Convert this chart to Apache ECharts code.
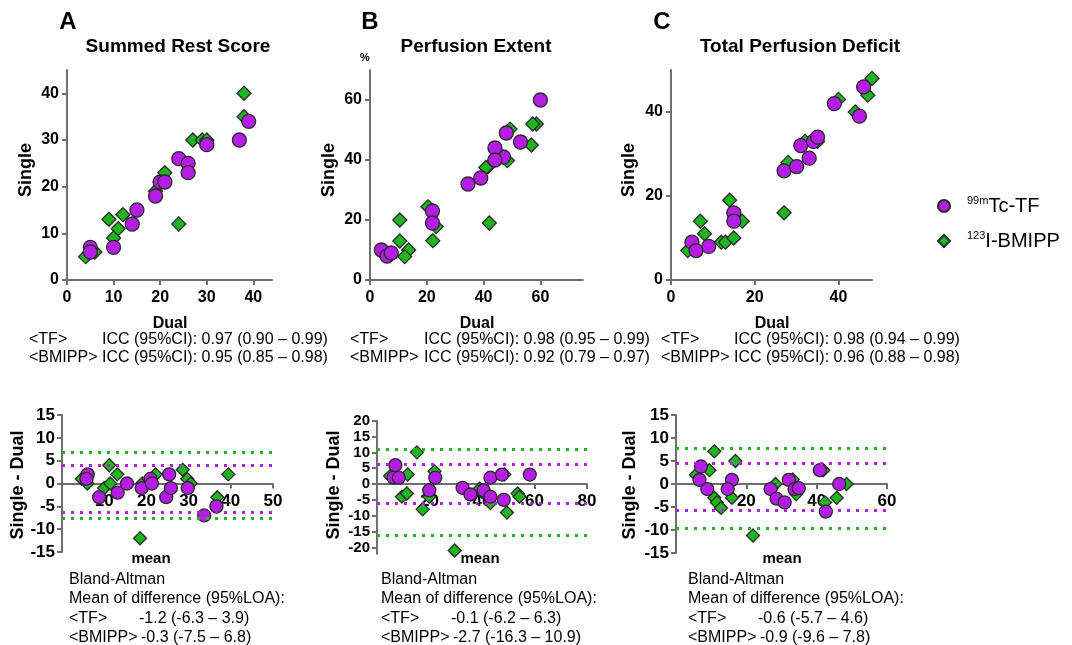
<!DOCTYPE html>
<html><head><meta charset="utf-8">
<script src="https://cdn.jsdelivr.net/npm/echarts@6/dist/echarts.min.js"></script>
<style>html,body{margin:0;padding:0;background:#fff}#c{width:1072px;height:645px}</style>
</head><body><div id="c"></div>
<script>
// ---------- DATA ----------
// Top scatter plots: [Dual, Single]
const srsTF = [[39,34],[37,30],[30,29],[24,26],[26,25],[26,23],[20,21],[21,21],[19,18],[15,15],[14,12],[10,7],[5,7],[5,6]];
const srsBM = [[38,40],[38,35],[27,30],[29,30],[30,30],[21,23],[19,19],[20,21],[9,13],[12,14],[11,11],[10,9],[24,12],[4,5],[6,6]];
const peTF = [[60,60],[53,46],[48,49],[47,41],[44,44],[44,40],[39,34],[34.5,32],[22,23],[22,19],[4,10],[6,8],[7.5,9]];
const peBM = [[58.6,52],[57.3,52],[56.8,45],[49.3,50.3],[48.4,39.8],[41.6,37.8],[40.8,37.5],[42,19],[10.5,20],[10.5,13],[13.6,10],[12.2,7.8],[20.4,24.4],[23.3,17.8],[22.1,13.1],[5,8.5]];
const tpdTF = [[5,9],[6,7],[9,8],[15,16],[15,14],[27,26],[30,27],[31,32],[33,29],[34,33],[35,34],[39,42],[45,39],[46,46]];
const tpdBM = [[4,7],[7,14],[8,11],[12,9],[13,9],[14,19],[15,10],[17,14],[27,16],[28,28],[32,33],[35,33],[40,43],[44,40],[47,44],[48,48]];
// Bland-Altman plots: [mean, Single - Dual]
const baSrsTF = [[6.1,2],[5.8,1],[8.8,-3],[13.2,-2],[15.4,0],[18.9,-1],[21,1],[21.3,0],[25.4,2],[24.7,-3],[25.8,-1],[29.8,-1],[33.7,-7],[36.6,-5]];
const baSrsBM = [[4.7,1],[6,0],[11.2,4],[10,-1],[11.4,0],[13.1,2],[22.2,2],[28.6,3],[29.7,1],[30.5,0],[39.4,2],[36.8,-3],[18.5,-12],[19,0],[20.5,1]];
const baPeTF = [[7,6],[6.3,2],[8.3,2],[19.9,-2],[22.2,2],[32.6,-1.2],[35.6,-3.3],[40.6,-2],[43.2,2],[43.2,-4],[47.6,3],[48.3,-5],[58.2,3]];
const baPeBM = [[5,2.5],[11.7,3],[15.2,10],[9.5,-4],[11.4,-3],[17.4,-8],[19.9,-4],[21.9,4],[29.6,-21],[39.1,-1.5],[40,-2.5],[43.2,-6],[49.5,-9],[48.5,3],[53.6,-3],[54.3,-4]];
const baTpdTF = [[7.1,3.8],[6.7,0.9],[8.9,-1.1],[15.9,0.9],[14.7,-1.1],[26.9,-1.1],[28.6,-3.2],[30.9,-4],[32.1,0.9],[33.7,-1.1],[34.9,-0.9],[40.9,3],[42.6,-6],[46.4,0]];
const baTpdBM = [[5.7,2],[9.5,3],[10.9,7.1],[10.9,-3],[11.6,-4],[12.8,-5.2],[16.9,5],[15.9,-3],[21.9,-11.2],[28.3,0],[33.2,1],[34.2,-2.2],[41.9,3],[42.4,-4],[45.7,-3],[48.5,0]];
// Limits of agreement (upper, lower)
const loaSrsTF = [3.9,-6.3], loaSrsBM = [6.8,-7.5];
const loaPeTF = [6.3,-6.2], loaPeBM = [10.9,-16.3];
const loaTpdTF = [4.6,-5.7], loaTpdBM = [7.8,-9.6];
// Tick values
const topXTicks = [[0,10,20,30,40],[0,20,40,60],[0,20,40]];
const topYTicks = [[0,10,20,30,40],[0,20,40,60],[0,20,40]];
const baXTicks = [[10,20,30,40,50],[20,40,60,80],[20,40,60]];
const baYTicks = [[-15,-10,-5,0,5,10,15],[-20,-15,-10,-5,0,5,10,15,20],[-15,-10,-5,0,5,10,15]];
// Texts
const panelLetters = ['A','B','C'];
const panelTitles = ['Summed Rest Score','Perfusion Extent','Total Perfusion Deficit'];
const iccTF = ['ICC (95%CI): 0.97 (0.90 – 0.99)','ICC (95%CI): 0.98 (0.95 – 0.99)','ICC (95%CI): 0.98 (0.94 – 0.99)'];
const iccBM = ['ICC (95%CI): 0.95 (0.85 – 0.98)','ICC (95%CI): 0.92 (0.79 – 0.97)','ICC (95%CI): 0.96 (0.88 – 0.98)'];
const baTF = ['-1.2 (-6.3 – 3.9)','-0.1 (-6.2 – 6.3)','-0.6 (-5.7 – 4.6)'];
const baBM = ['-0.3 (-7.5 – 6.8)','-2.7 (-16.3 – 10.9)','-0.9 (-9.6 – 7.8)'];
const nameTF = '99mTc-TF', nameBM = '123I-BMIPP';

// ---------- STYLE / LAYOUT ----------
const PURPLE = '#b31de6', GREEN = '#1fb51f', AX = '#6e6e6e';
const FF = '"Liberation Sans", Arial, sans-serif';
const grids = [
  {left:67, top:70, width:205, height:210},
  {left:370, top:70, width:213, height:210},
  {left:671, top:70, width:201, height:210},
  {left:62, top:415, width:211, height:137},
  {left:377, top:420.7, width:210, height:133},
  {left:676, top:415, width:211, height:138}
];
const xRanges = [[0,44],[0,75],[0,48],[0,50],[0,80],[0,60]];
const yRanges = [[0,45],[0,70],[0,50],[-15,15],[-22,20],[-15,15]];

function axisBase(extra){
  return Object.assign({
    type:'value', splitLine:{show:false},
    axisLine:{show:true, onZero:false, lineStyle:{color:AX, width:2}},
    axisTick:{show:true, length:5, lineStyle:{color:AX, width:2}},
    axisLabel:{color:'#000', fontFamily:FF, fontWeight:'bold', fontSize:16, showMinLabel:true, showMaxLabel:true}
  }, extra);
}
const xAxes = [], yAxes = [];
for (let i=0;i<6;i++){
  const top = i<3;
  const xt = top ? topXTicks[i] : [0].concat(baXTicks[i-3]);
  const xl = top ? topXTicks[i] : baXTicks[i-3];
  const yt = top ? topYTicks[i] : baYTicks[i-3];
  const xa = axisBase({gridIndex:i, min:xRanges[i][0], max:xRanges[i][1]});
  if (!top) {
    // place the x axis on the zero line of the difference axis
    const gr = grids[i], yr = yRanges[i];
    const zeroFromBottom = gr.height * (0 - yr[0]) / (yr[1] - yr[0]);
    xa.offset = -zeroFromBottom;
  }
  xa.axisTick = Object.assign({}, xa.axisTick, {customValues:xt});
  xa.axisLabel = Object.assign({}, xa.axisLabel, {customValues:xl, margin: top?10:9, fontSize: top?16:17});
  const ya = axisBase({gridIndex:i, min:yRanges[i][0], max:yRanges[i][1]});
  ya.axisTick = Object.assign({}, ya.axisTick, {customValues:yt});
  ya.axisLabel = Object.assign({}, ya.axisLabel, {customValues:yt, margin: top?8:7, fontSize: top?16:(i===4?15:17)});
  xAxes.push(xa); yAxes.push(ya);
}

function sc(name, idx, data, isTF, size, loa){
  const s = {
    type:'scatter', name, xAxisIndex:idx, yAxisIndex:idx, data,
    symbol: isTF ? 'circle' : 'diamond',
    symbolSize: size,
    itemStyle:{color: isTF?PURPLE:GREEN, borderColor:'#2a2a2a', borderWidth:1.3, opacity:1},
    z: isTF ? 4 : 3,
    emphasis:{disabled:true}
  };
  if (loa){
    s.markLine = {
      silent:true, symbol:'none', animation:false, label:{show:false},
      lineStyle:{color:isTF?PURPLE:GREEN, type:[3,6], width:3, opacity:1},
      emphasis:{disabled:true},
      data: loa.map(v=>({yAxis:v}))
    };
  }
  return s;
}
const series = [
  sc(nameBM,0,srsBM,false,14), sc(nameTF,0,srsTF,true,14),
  sc(nameBM,1,peBM,false,14), sc(nameTF,1,peTF,true,14),
  sc(nameBM,2,tpdBM,false,14), sc(nameTF,2,tpdTF,true,14),
  sc(nameBM,3,baSrsBM,false,13,loaSrsBM), sc(nameTF,3,baSrsTF,true,13,loaSrsTF),
  sc(nameBM,4,baPeBM,false,13,loaPeBM), sc(nameTF,4,baPeTF,true,13,loaPeTF),
  sc(nameBM,5,baTpdBM,false,13,loaTpdBM), sc(nameTF,5,baTpdTF,true,13,loaTpdTF)
];

function T(s, x, y, font, align, rot){
  return {type:'text', x, y, rotation: rot||0, silent:true,
    style:{text:s, font, fill:'#000', textAlign:align||'left', textVerticalAlign:'middle'}};
}
const g = [];
const letterX = [68, 370, 662];
const titleX = [178, 476, 800];
const singleX = [26, 329, 629];
const dualX = [170, 477, 772];
const iccLabelX = [29, 350, 661], iccValX = [102, 424, 734];
const baTextX = [69, 381, 688];
const sdX = [18, 334, 630];
const meanX = [151, 480, 782];
for (let i=0;i<3;i++){
  g.push(T(panelLetters[i], letterX[i], 22, 'bold 24px '+FF, 'center'));
  g.push(T(panelTitles[i], titleX[i], 47, 'bold 19px '+FF, 'center'));
  g.push(T('Single', singleX[i], 170, 'bold 18px '+FF, 'center', Math.PI/2));
  g.push(T('Dual', dualX[i], 324, 'bold 16px '+FF, 'center'));
  g.push(T('<TF>', iccLabelX[i], 340, '16px '+FF));
  g.push(T(iccTF[i], iccValX[i], 340, '16px '+FF));
  g.push(T('<BMIPP>', iccLabelX[i], 358, '16px '+FF));
  g.push(T(iccBM[i], iccValX[i], 358, '16px '+FF));
  g.push(T('Single - Dual', sdX[i], 485, 'bold 18px '+FF, 'center', Math.PI/2));
  g.push(T('mean', meanX[i], 559, 'bold 15px '+FF, 'center'));
  g.push(T('Bland-Altman', baTextX[i], 580, '16px '+FF));
  g.push(T('Mean of difference (95%LOA):', baTextX[i], 599, '16px '+FF));
  g.push(T('<TF>', baTextX[i], 619, '16px '+FF));
  g.push(T(baTF[i], baTextX[i]+70, 619, '16px '+FF));
  g.push(T('<BMIPP>', baTextX[i], 638, '16px '+FF));
  g.push(T(baBM[i], baTextX[i]+72, 638, '16px '+FF));
}
g.push(T('%', 365, 58, 'bold 11px '+FF, 'center'));

const chart = echarts.init(document.getElementById('c'), null, {renderer:'canvas'});
chart.setOption({
  animation:false,
  backgroundColor:'#fff',
  grid: grids,
  xAxis: xAxes,
  yAxis: yAxes,
  series,
  legend:{
    orient:'vertical', left:932, top:190, itemWidth:12, itemHeight:12, itemGap:14,
    selectedMode:false,
    data:[{name:nameTF, icon:'circle'},{name:nameBM, icon:'diamond'}],
    formatter: n => n===nameTF ? '{s|99m}{m|Tc-TF}' : '{s|123}{m|I-BMIPP}',
    textStyle:{padding:[0,0,0,12], rich:{
      s:{fontSize:11, fontFamily:FF, color:'#000', verticalAlign:'top', lineHeight:22},
      m:{fontSize:20, fontFamily:FF, color:'#000', lineHeight:22}
    }}
  },
  graphic: g
});
</script></body></html>
